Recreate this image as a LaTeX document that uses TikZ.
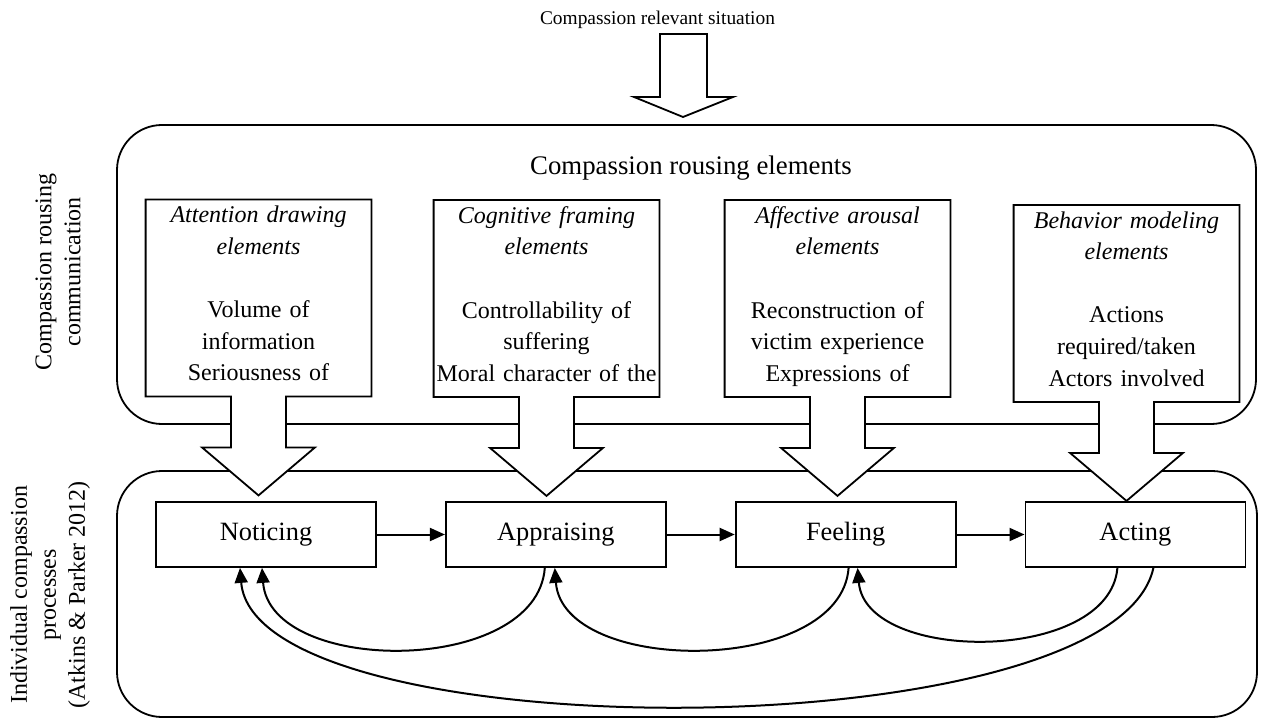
\documentclass[tikz,border=0pt]{standalone}
\usepackage{fontspec}
\setmainfont{Liberation Serif}
\usetikzlibrary{calc,positioning,arrows.meta}

\tikzstyle{roundframe} = [draw, line width=0.9pt, rounded corners=22.5pt]
\tikzstyle{elembox} = [rectangle, minimum width=112.5pt, minimum height=98pt, inner sep=0pt]
\tikzstyle{elemtext} = [
    anchor=north,
    text width=110pt,
    align=center,
    inner xsep=0pt,
    inner ysep=3pt,
    font=\fontsize{12}{15.8}\selectfont
    ]
\tikzstyle{elemline} = [draw, fill=white, line width=0.9pt]
\tikzstyle{process} = [
    draw,
    rectangle,
    line width=0.9pt,
    minimum width=110pt,
    minimum height=32.5pt,
    font=\fontsize{13.2}{16}\selectfont
    ]
\tikzstyle{flow} = [line width=1pt, -{Triangle[length=7.5pt,width=6.5pt]}]
\tikzstyle{sidelabel} = [rotate=90, align=center, font=\fontsize{12}{14.5}\selectfont]

% box with a block arrow hanging below it
\newcommand{\elemcallout}[1]{%
\path[elemline] (#1.north west) -- (#1.north east) -- (#1.south east)
    -- ($(#1.south)+(27.5,0)$) -- ($(#1.south)+(27.5,51)$) -- ($(#1.south)+(56.5,51)$)
    -- ($(#1.south)+(0,99)$)
    -- ($(#1.south)+(-56.5,51)$) -- ($(#1.south)+(-27.5,51)$) -- ($(#1.south)+(-27.5,0)$)
    -- (#1.south west) -- cycle;
}

\begin{document}
\begin{tikzpicture}[x=0.5pt, y=-0.5pt]
\useasboundingbox (0,0) rectangle (1262,721);

% frames
\draw[roundframe] (117,125) rectangle (1256,424);
\draw[roundframe] (117,471) rectangle (1257,717);

\node[sidelabel] (commlabel) at (58,272) {Compassion rousing\\communication};
\node[sidelabel] (proclabel) at (50,595) {Individual compassion\\processes\\(Atkins \& Parker 2012)};

% situation arrow
\node[anchor=base, font=\fontsize{9.7}{12}\selectfont] (situation) at (657.5,25) {Compassion relevant situation};
\path[elemline] (660,34) -- (707,34) -- (707,97) -- (733,97) -- (683,117) -- (634,97) -- (660,97) -- cycle;

\node[anchor=base, font=\fontsize{13.4}{16}\selectfont] (rousing) at (691,175) {Compassion rousing elements};

% element boxes
\node[elembox] (attention) at (258.5,298) {};
\node[elembox] (cognitive) at (546.5,298.5) {};
\node[elembox] (affective) at (837.5,298.5) {};
\node[elembox] (behavior) at (1126.5,303.5) {};
\elemcallout{attention}
\elemcallout{cognitive}
\elemcallout{affective}
\elemcallout{behavior}

\node[elemtext] (attentiontxt) at (attention.north) {{\itshape Attention drawing\\elements}\\[15.8pt]
    Volume of\\information\\Seriousness of};
\node[elemtext] (cognitivetxt) at (cognitive.north) {{\itshape Cognitive framing\\elements}\\[15.8pt]
    Controllability of\\suffering\\Moral character of the};
\node[elemtext] (affectivetxt) at (affective.north) {{\itshape Affective arousal\\elements}\\[15.8pt]
    Reconstruction of\\victim experience\\Expressions of};
\node[elemtext] (behaviortxt) at (behavior.north) {{\itshape Behavior modeling\\elements}\\[15.8pt]
    Actions\\required/taken\\Actors involved};

% processes
\node[process] (notice) at (266,534.5) {Noticing};
\node[process, right=34pt of notice] (appraise) {Appraising};
\node[process, right=34pt of appraise] (feel) {Feeling};
\node[process, right=34pt of feel] (act) {Acting};

\draw[flow] (notice) -- (appraise);
\draw[flow] (appraise) -- (feel);
\draw[flow] (feel) -- (act);

% feedback loops
\draw[flow] ($(appraise.south)+(-11,0)$) .. controls +(-8,108) and +(8,108) .. ($(notice.south)+(-4,0)$);
\draw[flow] ($(feel.south)+(3,0)$) .. controls +(-8,108) and +(8,108) .. ($(appraise.south)+(-1,0)$);
\draw[flow] ($(act.south)+(-18,0)$) .. controls +(-8,96) and +(8,96) .. ($(feel.south)+(12,0)$);
\draw[flow] ($(act.south)+(18,0)$) .. controls +(-40,184) and +(15,184) .. ($(notice.south)+(-26,0)$);
\end{tikzpicture}
\end{document}
